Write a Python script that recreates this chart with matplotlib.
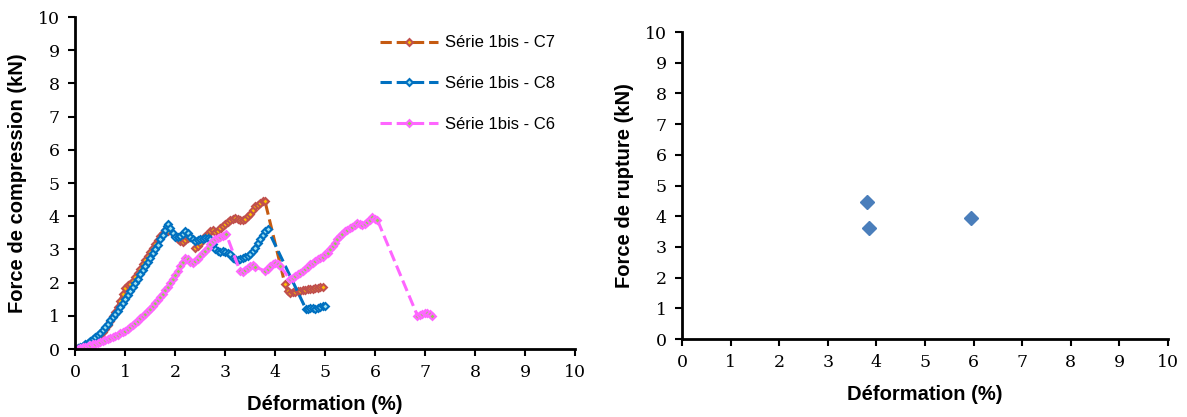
import numpy as np
import matplotlib.pyplot as plt

# Série 1bis - C7
c7_x = [0, 0.05, 0.1, 0.15, 0.2, 0.25, 0.3, 0.35, 0.4, 0.45, 0.5, 0.55, 0.6, 0.65, 0.7, 0.75,
        0.8, 0.85, 0.9, 0.95, 1.0, 1.05, 1.1, 1.15, 1.2, 1.25, 1.3, 1.35, 1.4, 1.45, 1.5, 1.55,
        1.6, 1.65, 1.7, 1.75, 1.8, 1.85, 2.0, 2.05, 2.1, 2.15, 2.2, 2.25, 2.3, 2.4, 2.45, 2.5,
        2.55, 2.6, 2.65, 2.7, 2.75, 2.8, 2.85, 2.9, 2.95, 3.0, 3.05, 3.1, 3.15, 3.2, 3.25, 3.3,
        3.35, 3.4, 3.45, 3.5, 3.55, 3.6, 3.65, 3.7, 3.75, 3.8, 4.2, 4.25, 4.3, 4.35, 4.4, 4.45,
        4.5, 4.55, 4.6, 4.65, 4.7, 4.75, 4.8, 4.85, 4.9, 4.95]
c7_y = [0, 0.02, 0.04, 0.07, 0.1, 0.14, 0.18, 0.23, 0.28, 0.34, 0.41, 0.5, 0.6, 0.72, 0.85, 0.98,
        1.12, 1.28, 1.45, 1.65, 1.85, 1.92, 1.95, 2.05, 2.18, 2.3, 2.42, 2.55, 2.68, 2.8, 2.92, 3.05,
        3.15, 3.28, 3.4, 3.5, 3.58, 3.55, 3.4, 3.3, 3.25, 3.22, 3.28, 3.35, 3.38, 3.05, 3.1, 3.2,
        3.3, 3.4, 3.48, 3.55, 3.6, 3.52, 3.55, 3.65, 3.72, 3.78, 3.82, 3.88, 3.93, 3.95, 3.92, 3.9,
        3.88, 3.93, 4.0, 4.08, 4.18, 4.3, 4.35, 4.4, 4.45, 4.45, 1.95, 1.75, 1.7, 1.72, 1.72, 1.74,
        1.75, 1.77, 1.78, 1.8, 1.8, 1.82, 1.84, 1.85, 1.87, 1.88]

# Série 1bis - C8
c8_x = [0, 0.05, 0.1, 0.15, 0.2, 0.25, 0.3, 0.35, 0.4, 0.45, 0.5, 0.55, 0.6, 0.65, 0.7, 0.75,
        0.8, 0.85, 0.9, 0.95, 1.0, 1.05, 1.1, 1.15, 1.2, 1.25, 1.3, 1.35, 1.4, 1.45, 1.5, 1.55,
        1.6, 1.65, 1.7, 1.75, 1.8, 1.83, 1.86, 1.9, 1.95, 2.0, 2.05, 2.1, 2.15, 2.2, 2.25, 2.3,
        2.35, 2.4, 2.45, 2.5, 2.55, 2.6, 2.65, 2.7, 2.75, 2.8, 2.85, 2.9, 2.95, 3.0, 3.05, 3.1,
        3.15, 3.2, 3.25, 3.3, 3.35, 3.4, 3.45, 3.5, 3.55, 3.6, 3.65, 3.7, 3.75, 3.8, 3.85,
        4.62, 4.65, 4.7, 4.75, 4.8, 4.85, 4.9, 4.95, 5.0]
c8_y = [0, 0.03, 0.06, 0.1, 0.14, 0.19, 0.25, 0.3, 0.36, 0.42, 0.48, 0.56, 0.66, 0.76, 0.86, 0.96,
        1.06, 1.16, 1.27, 1.38, 1.5, 1.63, 1.76, 1.88, 2.0, 2.12, 2.25, 2.38, 2.5, 2.62, 2.75, 2.88,
        3.0, 3.14, 3.3, 3.45, 3.6, 3.72, 3.78, 3.65, 3.5, 3.38, 3.36, 3.42, 3.48, 3.55, 3.5, 3.38,
        3.3, 3.25, 3.28, 3.3, 3.32, 3.35, 3.33, 3.3, 3.15, 3.0, 2.95, 2.93, 2.95, 2.92, 2.9, 2.85,
        2.75, 2.7, 2.68, 2.7, 2.75, 2.78, 2.8, 2.85, 2.95, 3.05, 3.18, 3.3, 3.45, 3.55, 3.62,
        1.2, 1.22, 1.25, 1.25, 1.22, 1.25, 1.27, 1.3, 1.3]

# Série 1bis - C6
c6_x = [0, 0.05, 0.1, 0.15, 0.2, 0.25, 0.3, 0.35, 0.4, 0.45, 0.5, 0.55, 0.6, 0.65, 0.7, 0.75,
        0.8, 0.85, 0.9, 0.95, 1.0, 1.05, 1.1, 1.15, 1.2, 1.25, 1.3, 1.35, 1.4, 1.45, 1.5, 1.55,
        1.6, 1.65, 1.7, 1.75, 1.8, 1.85, 1.9, 1.95, 2.0, 2.05, 2.1, 2.15, 2.2, 2.25, 2.3, 2.35,
        2.4, 2.45, 2.5, 2.55, 2.6, 2.65, 2.7, 2.75, 2.8, 2.85, 2.9, 2.95, 3.0, 3.02,
        3.3, 3.35, 3.4, 3.45, 3.5, 3.55, 3.6, 3.8, 3.85, 3.9, 3.95, 4.0, 4.05, 4.1,
        4.3, 4.35, 4.4, 4.45, 4.5, 4.55, 4.6, 4.65, 4.7, 4.75, 4.8, 4.85, 4.9, 4.95, 5.0, 5.05,
        5.1, 5.15, 5.2, 5.25, 5.3, 5.35, 5.4, 5.45, 5.5, 5.55, 5.6, 5.65, 5.7, 5.75, 5.8, 5.85,
        5.9, 5.95, 6.0, 6.05, 6.85, 6.9, 6.95, 7.0, 7.05, 7.1, 7.15]
c6_y = [0, 0.01, 0.03, 0.05, 0.07, 0.09, 0.11, 0.14, 0.16, 0.19, 0.22, 0.25, 0.28, 0.31, 0.34, 0.37,
        0.4, 0.43, 0.47, 0.51, 0.55, 0.6, 0.66, 0.72, 0.78, 0.85, 0.92, 0.99, 1.06, 1.14, 1.22, 1.3,
        1.39, 1.48, 1.57, 1.67, 1.77, 1.88, 1.99, 2.1, 2.22, 2.35, 2.5, 2.62, 2.75, 2.72, 2.62, 2.6,
        2.65, 2.72, 2.8, 2.88, 2.95, 3.05, 3.15, 3.25, 3.3, 3.35, 3.38, 3.42, 3.45, 3.48,
        2.35, 2.32, 2.38, 2.45, 2.5, 2.52, 2.48, 2.35, 2.42, 2.5, 2.55, 2.58, 2.55, 2.5,
        2.1, 2.15, 2.2, 2.25, 2.3, 2.35, 2.42, 2.48, 2.55, 2.6, 2.65, 2.7, 2.73, 2.78, 2.85, 2.9,
        3.0, 3.1, 3.2, 3.3, 3.4, 3.48, 3.55, 3.6, 3.65, 3.68, 3.75, 3.8, 3.78, 3.75, 3.77, 3.82,
        3.9, 3.98, 3.92, 3.88, 1.0, 1.02, 1.05, 1.08, 1.1, 1.05, 1.0]

# Force de rupture
rupt_x = [3.8, 3.85, 5.95]
rupt_y = [4.45, 3.62, 3.95]

ticks = list(range(0, 11))

fig = plt.figure(figsize=(11.87, 4.17), dpi=100)
ax1 = fig.add_axes([0.0632, 0.163, 0.4212, 0.796])
ax2 = fig.add_axes([0.5746, 0.187, 0.4094, 0.736])

ax1.plot(c7_x, c7_y, '--', color='#C55A11', lw=2.2, marker='D', ms=3.5,
         mec='#C0504D', mfc='#FFC000', mew=1.5, label='Série 1bis - C7')
ax1.plot(c8_x, c8_y, '--', color='#0070C0', lw=2.2, marker='D', ms=3.5,
         mec='#0070C0', mfc='#9DE0F0', mew=1.5, label='Série 1bis - C8')
ax1.plot(c6_x, c6_y, '--', color='#FF66FF', lw=2.2, marker='D', ms=3.5,
         mec='#FF66FF', mfc='#92D050', mew=1.5, label='Série 1bis - C6')

ax2.plot(rupt_x, rupt_y, 'D', color='#4A7EBB', ms=7)

for ax in (ax1, ax2):
    ax.set_xlim(0, 10)
    ax.set_ylim(0, 10)
    ax.set_xticks(ticks)
    ax.set_yticks(ticks)
    ax.spines['top'].set_visible(False)
    ax.spines['right'].set_visible(False)
    ax.spines['left'].set_linewidth(2)
    ax.spines['bottom'].set_linewidth(2)
    ax.tick_params(direction='out', length=5, width=1.5, pad=6)
    for lab in ax.get_xticklabels() + ax.get_yticklabels():
        lab.set_family('DejaVu Serif')
        lab.set_fontsize(12.5)
    ax.set_xlabel('Déformation (%)', fontsize=14.5, fontweight='bold', family='Liberation Sans',
                  labelpad=10)

ax1.set_ylabel('Force de compression (kN)', fontsize=14.5, fontweight='bold', family='Liberation Sans',
               labelpad=8)
ax2.set_ylabel('Force de rupture (kN)', fontsize=14.5, fontweight='bold', family='Liberation Sans',
               labelpad=8)

ax1.legend(loc='upper right', bbox_to_anchor=(0.99, 0.99), frameon=False, labelspacing=1.55,
           prop={'family': 'Liberation Sans', 'size': 12}, handlelength=3.5, handletextpad=0.4)

plt.savefig('out.png')
